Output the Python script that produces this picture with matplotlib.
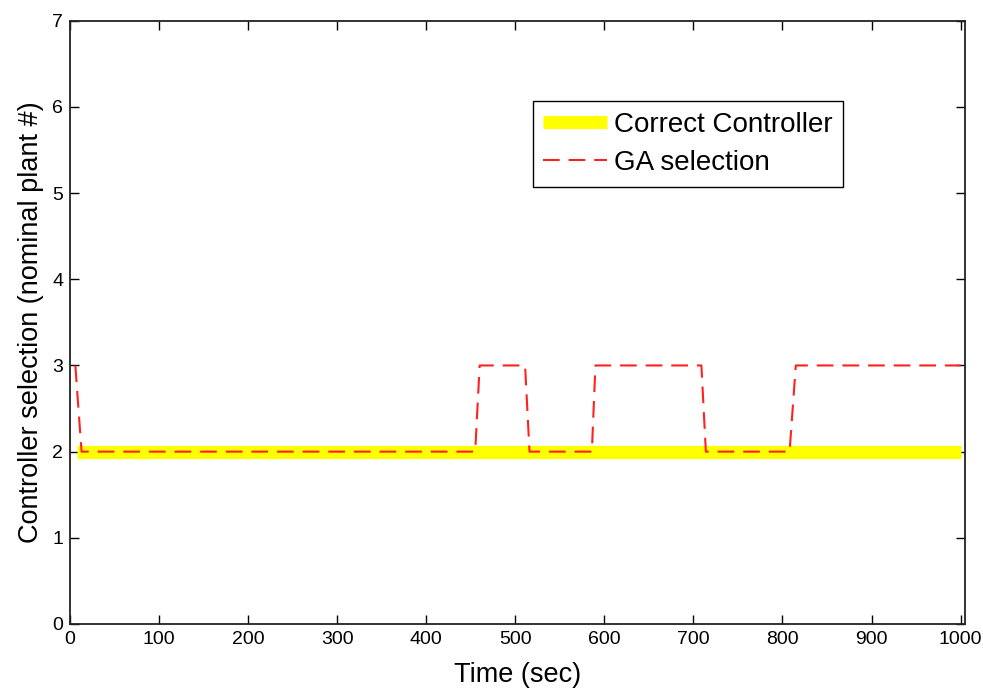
import matplotlib
matplotlib.use("Agg")
import matplotlib.pyplot as plt

plt.rcParams['font.family'] = ['Liberation Sans', 'DejaVu Sans']

# correct controller (nominal plant #)
t_correct = [8, 1000]
correct = [2, 2]

# GA selection, step changes
t_ga = [6, 13, 455, 460, 511, 516, 586, 590, 709, 714, 808, 815, 1000]
ga = [3, 2, 2, 3, 3, 2, 2, 3, 3, 2, 2, 3, 3]

x_ticks = [0, 100, 200, 300, 400, 500, 600, 700, 800, 900, 1000]
y_ticks = [0, 1, 2, 3, 4, 5, 6, 7]

fig = plt.figure(figsize=(9.83, 6.92), dpi=100)
ax = fig.add_axes([0.0712, 0.0983, 0.9105, 0.8717])

ax.plot(t_correct, correct, color='#ffff00', linewidth=9.5,
        solid_capstyle='butt', label='Correct Controller')
ax.plot(t_ga, ga, color='#ff2020', linewidth=1.5, dashes=(8, 4.3),
        label='GA selection')

ax.set_xlim(0, 1005)
ax.set_ylim(0, 7)
ax.set_xticks(x_ticks)
ax.set_yticks(y_ticks)
ax.tick_params(direction='in', length=6.5, width=1, labelsize=14,
               top=True, right=True, pad=5)
for s in ax.spines.values():
    s.set_linewidth(1.3)
    s.set_color('#222222')

ax.set_xlabel('Time (sec)', fontsize=19.5, labelpad=10)
ax.set_ylabel('Controller selection (nominal plant #)', fontsize=19.5,
              labelpad=6)

leg = ax.legend(loc='upper left', bbox_to_anchor=(0.517, 0.867),
                fontsize=20, frameon=True, fancybox=False, framealpha=1,
                edgecolor='black', handlelength=2.3, handletextpad=0.25,
                borderpad=0.38, labelspacing=0.45, borderaxespad=0)
leg.get_frame().set_linewidth(1.0)

fig.savefig('out.png', dpi=100)
